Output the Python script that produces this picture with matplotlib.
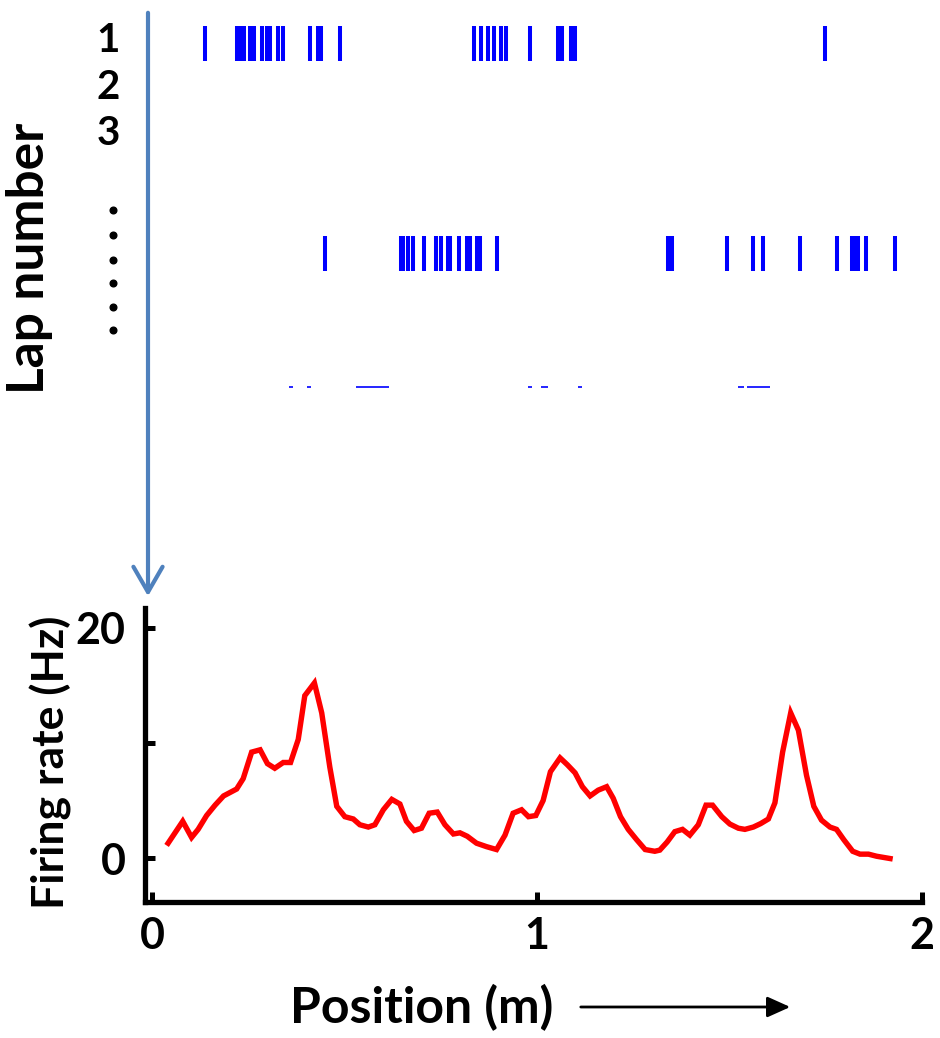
import numpy as np
import matplotlib
matplotlib.use("Agg")
import matplotlib.pyplot as plt

plt.rcParams['font.family'] = ['Lato', 'DejaVu Sans']
plt.rcParams['font.weight'] = 'bold'

# spike positions (m) for the two drawn laps
lap1_spikes = [0.138, 0.221, 0.229, 0.239, 0.255, 0.265, 0.286, 0.299, 0.306,
               0.327, 0.340, 0.410, 0.431, 0.439, 0.488, 0.836, 0.855, 0.873,
               0.888, 0.906, 0.919, 0.981, 1.055, 1.065, 1.088, 1.099, 1.748]
lapn_spikes = [0.449, 0.647, 0.653, 0.666, 0.679, 0.706, 0.738, 0.752, 0.769,
               0.774, 0.797, 0.817, 0.826, 0.843, 0.853, 0.895, 1.340, 1.351,
               1.494, 1.561, 1.586, 1.682, 1.779, 1.818, 1.826, 1.835, 1.855,
               1.931]
row_offsets = [1.13, 5.645]

# the squashed last row (start / end of each mark, m)
tiny_start = [0.356, 0.402, 0.530, 0.978, 1.010, 1.106, 1.521, 1.546]
tiny_end = [0.366, 0.412, 0.616, 0.988, 1.029, 1.116, 1.538, 1.605]
tiny_row = 8.52

lap_ticks = [1, 2, 3]
dots_y = [4.71, 5.25, 5.78, 6.28, 6.80, 7.29]

# firing rate map
pos = [0.042, 0.080, 0.103, 0.120, 0.142, 0.164, 0.186, 0.220, 0.237, 0.259,
       0.281, 0.300, 0.319, 0.341, 0.360, 0.380, 0.397, 0.422, 0.441, 0.462,
       0.480, 0.501, 0.523, 0.540, 0.562, 0.579, 0.601, 0.623, 0.644, 0.661,
       0.681, 0.700, 0.720, 0.741, 0.761, 0.783, 0.800, 0.819, 0.843, 0.869,
       0.895, 0.917, 0.938, 0.960, 0.978, 0.997, 1.016, 1.035, 1.060, 1.079,
       1.099, 1.118, 1.138, 1.159, 1.181, 1.198, 1.217, 1.237, 1.259, 1.281,
       1.306, 1.319, 1.338, 1.358, 1.378, 1.397, 1.419, 1.439, 1.456, 1.480,
       1.501, 1.523, 1.540, 1.562, 1.581, 1.601, 1.618, 1.638, 1.659, 1.679,
       1.700, 1.719, 1.739, 1.761, 1.778, 1.797, 1.820, 1.839, 1.861, 1.882,
       1.917]
rate = [1.3, 3.2, 1.8, 2.5, 3.7, 4.6, 5.4, 6.0, 6.9, 9.2,
        9.4, 8.2, 7.8, 8.3, 8.3, 10.3, 14.1, 15.2, 12.6, 7.9,
        4.5, 3.6, 3.4, 2.9, 2.7, 2.9, 4.2, 5.1, 4.7, 3.2,
        2.4, 2.6, 3.9, 4.0, 2.9, 2.1, 2.2, 1.9, 1.3, 1.0,
        0.75, 2.0, 3.9, 4.2, 3.6, 3.7, 5.0, 7.5, 8.7, 8.1,
        7.4, 6.2, 5.4, 5.9, 6.2, 5.2, 3.6, 2.5, 1.6, 0.75,
        0.6, 0.7, 1.4, 2.3, 2.5, 2.0, 2.9, 4.6, 4.6, 3.6,
        2.96, 2.6, 2.5, 2.7, 3.0, 3.4, 4.8, 9.2, 12.6, 11.1,
        7.2, 4.5, 3.3, 2.7, 2.5, 1.6, 0.6, 0.35, 0.35, 0.17,
        -0.03]

W, H = 940, 1038
fig = plt.figure(figsize=(W / 100, H / 100), dpi=100)

xlim = (-0.018, 2.0)
left = 145 / W
width = (922 - 145) / W

# raster
axr = fig.add_axes([left, 1 - 400 / H, width, 400 / H])
axr.eventplot([lap1_spikes, lapn_spikes], lineoffsets=row_offsets,
              linelengths=0.75, linewidths=2.9, colors='#0000FF')
axr.hlines([tiny_row] * len(tiny_start), tiny_start, tiny_end,
           colors='#0000FF', linewidth=1.2)
axr.set_xlim(xlim)
axr.set_ylim(8.796, 0.194)
for s in axr.spines.values():
    s.set_visible(False)
axr.set_xticks([])
axr.set_yticks(lap_ticks)
axr.set_yticklabels([str(t) for t in lap_ticks], fontsize=29, fontweight='bold')
axr.tick_params(axis='y', length=0, pad=18)
axr.plot([-0.0412] * len(dots_y), dots_y, 'o', color='black', markersize=4.8,
         transform=axr.get_yaxis_transform(), clip_on=False)
axr.set_ylabel('Lap number', fontsize=37, fontweight='bold')
axr.yaxis.set_label_coords((53 - 145) / 777, 1 - 258 / 400)

# rate map
ax = fig.add_axes([left, 1 - 902 / H, width, (902 - 608) / H])
ax.plot(pos, rate, color='#FF0000', linewidth=3.9, solid_joinstyle='miter')
ax.set_xlim(xlim)
ax.set_ylim(-3.8, 21.7)
ax.set_xticks([0, 1, 2])
ax.set_yticks([0, 10, 20])
ax.set_yticklabels(['0', '', '20'])
for side in ['top', 'right']:
    ax.spines[side].set_visible(False)
for side in ['left', 'bottom']:
    ax.spines[side].set_linewidth(3.8)
ax.tick_params(direction='in', length=7, width=3.6, labelsize=31, pad=10)
ax.tick_params(axis='y', pad=14)
for lab in ax.get_xticklabels() + ax.get_yticklabels():
    lab.set_fontweight('bold')
ax.set_ylabel('Firing rate (Hz)', fontsize=32, fontweight='bold')
ax.yaxis.set_label_coords((72 - 145) / 777, 1 - (762 - 608) / 294)
ax.set_xlabel('Position (m)', fontsize=36, fontweight='bold')
ax.xaxis.label.set_verticalalignment('center')
ax.xaxis.set_label_coords((422 - 145) / 777, (902 - 1008) / 294)

# blue arrow from the raster down to the rate map
fig.add_artist(matplotlib.patches.FancyArrowPatch(
    (148 / W, 1 - 10 / H), (148 / W, 1 - 599 / H), transform=fig.transFigure,
    arrowstyle='->,head_length=1.3,head_width=0.75', color='#4F81BD',
    linewidth=3, mutation_scale=14))

# direction arrow next to x label
fig.add_artist(matplotlib.patches.FancyArrowPatch(
    (578 / W, 1 - 1007 / H), (793 / W, 1 - 1007 / H), transform=fig.transFigure,
    arrowstyle='-|>,head_length=1.0,head_width=0.45', color='black',
    linewidth=2, mutation_scale=14))

fig.savefig('out.png', dpi=100)
